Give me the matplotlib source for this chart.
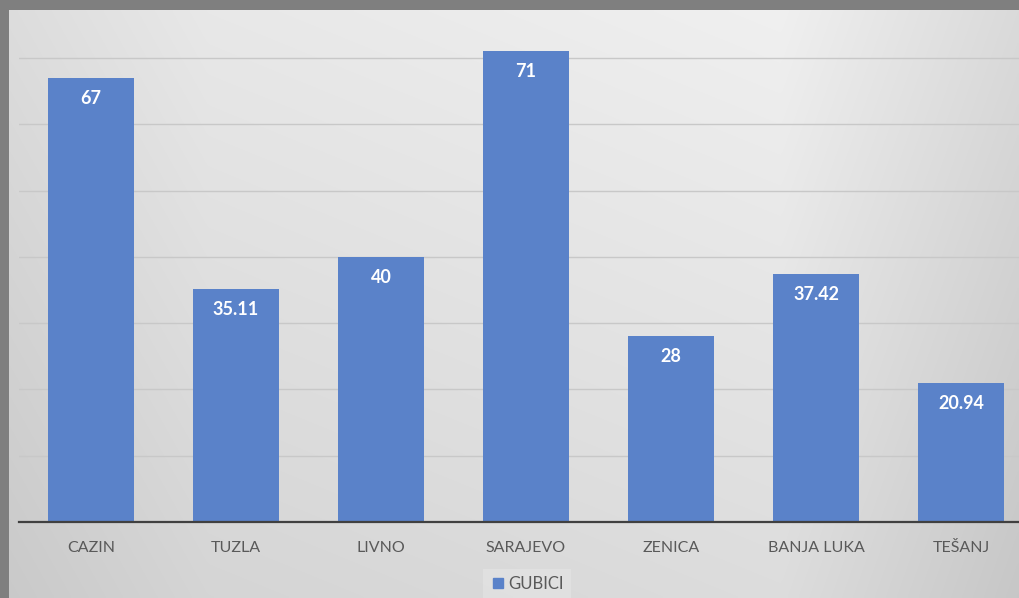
import numpy as np
import matplotlib
matplotlib.use("Agg")
import matplotlib.pyplot as plt
from matplotlib.lines import Line2D

categories = ["CAZIN", "TUZLA", "LIVNO", "SARAJEVO", "ZENICA", "BANJA LUKA", "TEŠANJ"]
values = [67, 35.11, 40, 71, 28, 37.42, 20.94]
value_labels = ["67", "35.11", "40", "71", "28", "37.42", "20.94"]
series_name = "GUBICI"

W, H = 1019, 598
fig = plt.figure(figsize=(W / 100, H / 100), dpi=100, facecolor="#7f7f7f")

# gradient background panel
bg = fig.add_axes([9 / W, 0, 1 - 9 / W, 588 / H])
bg.set_axis_off()
xs = np.linspace(0, W, 400)
ys = np.linspace(0, 1, 200)
prof = np.interp(xs, [0, 200, 780, 1019], [0.865, 0.91, 0.94, 0.855])
grad = prof[None, :] - 0.075 * ys[:, None]
rgb = np.dstack([grad, grad, grad])
bg.imshow(rgb, aspect="auto", extent=[0, 1, 1, 0], interpolation="bilinear")
bg.set_xlim(0, 1)
bg.set_ylim(1, 0)

# main plot axes
base_y = 522
ppu = (522 - 58) / 70.0
ymax = 76
left = 18.5 / W
right = 1033.5 / W
bottom = (H - base_y) / H
height = ymax * ppu / H
ax = fig.add_axes([left, bottom, right - left, height])
ax.set_facecolor("none")

x = np.arange(len(categories))
bars = ax.bar(x, values, width=0.593, color="#5a82c9", zorder=3)
ax.set_xlim(-0.5, len(categories) - 0.5)
ax.set_ylim(0, ymax)
ax.set_yticks(np.arange(10, 71, 10))
ax.yaxis.grid(True, color="#c8c8c8", linewidth=1.0, zorder=0)
ax.tick_params(axis="y", left=False, labelleft=False)
for s in ["top", "right", "left"]:
    ax.spines[s].set_visible(False)
ax.spines["bottom"].set_color("#404040")
ax.spines["bottom"].set_linewidth(1.6)
ax.spines["bottom"].set_zorder(4)

ax.set_xticks(x)
ax.set_xticklabels(categories, fontfamily="Lato", fontsize=11.5, color="#595959")
ax.tick_params(axis="x", length=0, pad=13.5)

for xi, v, lab in zip(x, values, value_labels):
    ax.annotate(lab, (xi, v), xytext=(0, -18.5), textcoords="offset points",
                ha="center", va="baseline", color="white", fontweight="bold",
                fontfamily="Lato", fontsize=13, zorder=5)

handle = Line2D([], [], marker="s", linestyle="none", markersize=7,
                markerfacecolor="#5a82c9", markeredgecolor="#5a82c9")
leg = fig.legend([handle], [series_name], loc="center",
                 bbox_to_anchor=(527 / W, 1 - 584 / H),
                 frameon=True, facecolor="#e2e2e2", edgecolor="none",
                 fancybox=False, handletextpad=0.1, handlelength=1.0,
                 borderpad=0.4, prop={"family": "Lato", "size": 12})
for t in leg.get_texts():
    t.set_color("#595959")

fig.savefig("out.png", dpi=100, facecolor=fig.get_facecolor())
